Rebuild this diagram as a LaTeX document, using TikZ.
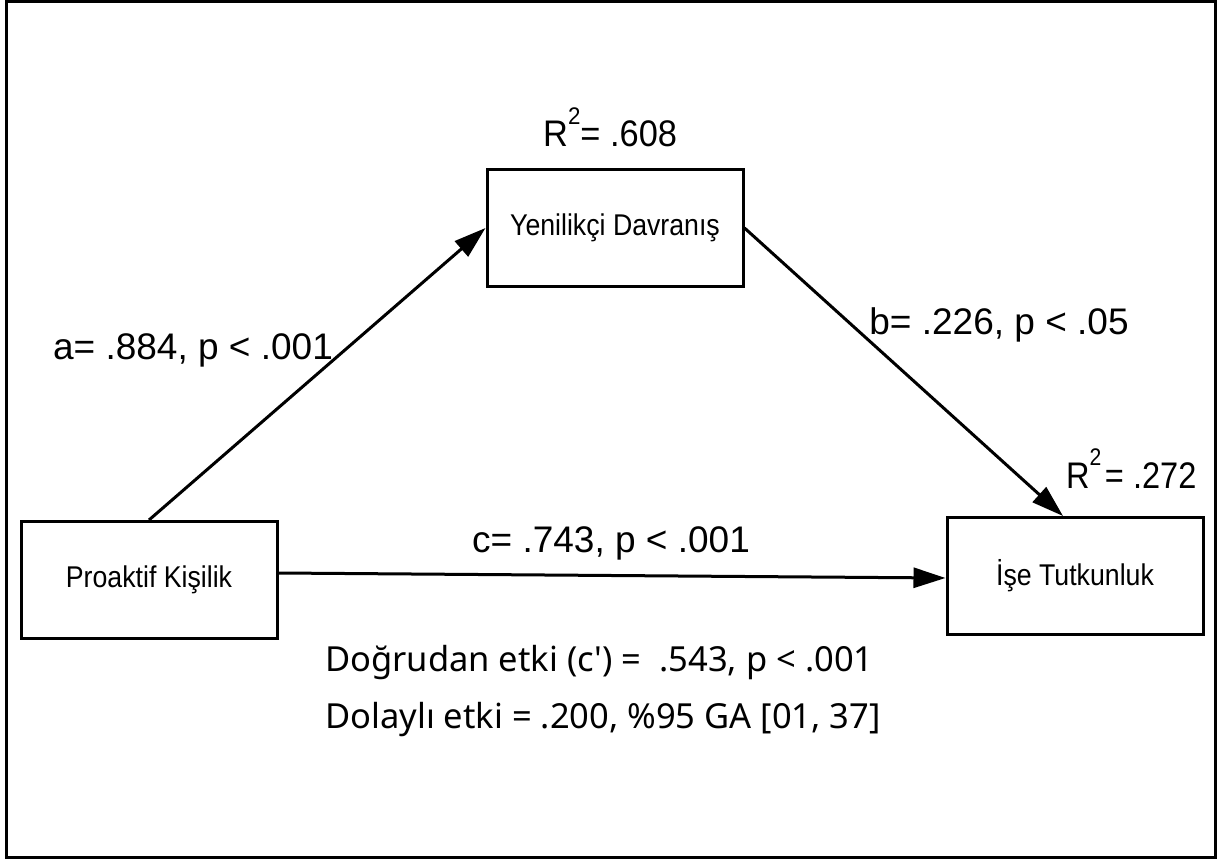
\documentclass[tikz,border=0pt]{standalone}
\usepackage{fontspec}
\usepackage{graphicx}
\setmainfont{Liberation Sans}
\newfontfamily\segoe{Noto Sans}
\usetikzlibrary{arrows.meta}
\tikzset{
  boxnode/.style={draw=black, line width=3pt, minimum width=256pt, minimum height=117pt, inner sep=0pt, font=\fontsize{30}{36}\selectfont},
  conn/.style={line width=3pt, -{Triangle[length=32pt,width=20pt]}},
  lbl/.style={inner sep=0pt, font=\fontsize{37}{42}\selectfont},
  rlbl/.style={inner sep=0pt, anchor=base west, font=\fontsize{37}{42}\selectfont},
  bottomlbl/.style={inner sep=0pt, anchor=west, font=\segoe\fontsize{34.5}{40}\selectfont}
}
\newcommand{\nar}[1]{\scalebox{0.89}[1]{#1}}
\newcommand{\sqr}{\raisebox{0.62em}{\fontsize{24}{24}\selectfont 2}}
\begin{document}
\begin{tikzpicture}[x=1pt,y=-1pt]
\useasboundingbox (0,0) rectangle (1218,861);
\fill[white] (0,0) rectangle (1218,861);
\draw[line width=3pt] (6,2) rectangle (1215,857);
\node[boxnode] (Y) at (615,228) {\nar{Yenilikçi Davranış}};
\node[boxnode] (P) at (149,580) {\nar{Proaktif Kişilik}};
\node[boxnode] (I) at (1075,576) {\nar{İşe Tutkunluk}};
\draw[conn] (P.north) -- (Y.west);
\draw[conn] (Y.east) -- ([xshift=-12pt]I.north);
\draw[conn] ([yshift=7pt]P.east) -- ([yshift=-2pt]I.west);
\node[lbl] (la) at (193,350) {a= .884, p < .001};
\node[lbl] (lb) at (999,325) {b= .226, p < .05};
\node[lbl] (lc) at (611,543) {c= .743, p < .001};
\node[rlbl] (r1) at (543,147) {\scalebox{0.93}[1]{R\sqr= .608}};
\node[rlbl] (r2) at (1066,488) {\scalebox{0.88}[1]{R\sqr\kern4pt= .272}};
\node[bottomlbl] (d1) at (325,663) {Doğrudan etki (c') =\ \ .543, p < .001};
\node[bottomlbl] (d2) at (325,720) {Dolaylı etki = .200, \%95 GA [01, 37]};
\end{tikzpicture}
\end{document}
